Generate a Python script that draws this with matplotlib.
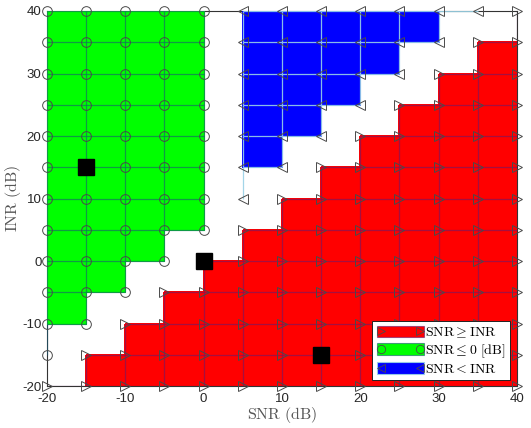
import numpy as np
import matplotlib.pyplot as plt
from matplotlib.patches import Patch
from matplotlib.lines import Line2D
from matplotlib.collections import LineCollection
from matplotlib.colors import ListedColormap

plt.rcParams['mathtext.fontset'] = 'cm'
plt.rcParams['font.family'] = ['Liberation Sans', 'DejaVu Sans']
plt.rcParams['axes.unicode_minus'] = False

# grid of the simulation (dB)
snr_db = [-20, -15, -10, -5, 0, 5, 10, 15, 20, 25, 30, 35, 40]
inr_db = [40, 35, 30, 25, 20, 15, 10, 5, 0, -5, -10, -15, -20]

# region of each grid point, rows = INR (top to bottom), cols = SNR
# r: SNR >= INR, g: SNR <= 0 dB, b: SNR < INR
region_rows = [
    'gggggbbbbbbbr',
    'gggggbbbbbbrr',
    'gggggbbbbbrrr',
    'gggggbbbbrrrr',
    'gggggbbbrrrrr',
    'gggggbbrrrrrr',
    'gggggbrrrrrrr',
    'gggggrrrrrrrr',
    'ggggrrrrrrrrr',
    'gggrrrrrrrrrr',
    'ggrrrrrrrrrrr',
    'grrrrrrrrrrrr',
    'rrrrrrrrrrrrr',
]

# highlighted operating points
black_snr = [-15, 0, 15]
black_inr = [15, 0, -15]

legend_labels = [r'$\mathrm{SNR} \geq \mathrm{INR}$',
                 r'$\mathrm{SNR} \leq 0\ [\mathrm{dB}]$',
                 r'$\mathrm{SNR} < \mathrm{INR}$']

order = ['r', 'g', 'b']
face_col = {'r': '#ff0000', 'g': '#00ff00', 'b': '#0000ff'}
mark = {'r': '>', 'g': 'o', 'b': '<'}
edge_col = {'r': (0.42, 0.1, 0.42, 0.6),
            'g': (0.1, 0.35, 0.45, 0.6),
            'b': (0.6, 0.82, 0.9, 0.9)}

cls = np.array([list(r) for r in region_rows])
X, Y = np.meshgrid(snr_db, inr_db)
n = len(inr_db)
m = len(snr_db)

fig = plt.figure(figsize=(5.31, 4.28), dpi=100)
ax = fig.add_axes([0.0885, 0.0981, 0.8851, 0.8762])

# cells are filled where all four corners share a region
cell = np.zeros((n - 1, m - 1))
for i in range(n - 1):
    for j in range(m - 1):
        c = cls[i, j]
        if c == cls[i + 1, j] == cls[i, j + 1] == cls[i + 1, j + 1]:
            cell[i, j] = order.index(c) + 1
cell = np.ma.masked_equal(cell, 0)
cmap = ListedColormap([face_col[k] for k in order])
ax.pcolormesh(snr_db, inr_db, cell, cmap=cmap, vmin=0.5, vmax=3.5,
              edgecolors='face', linewidth=0.3, zorder=1)

# mesh edges between neighbouring points of the same region
for k in order:
    segs = []
    for i in range(n):
        for j in range(m):
            if cls[i, j] != k:
                continue
            if j + 1 < m and cls[i, j + 1] == k:
                segs.append([(X[i, j], Y[i, j]), (X[i, j + 1], Y[i, j + 1])])
            if i + 1 < n and cls[i + 1, j] == k:
                segs.append([(X[i, j], Y[i, j]), (X[i + 1, j], Y[i + 1, j])])
    ax.add_collection(LineCollection(segs, colors=[edge_col[k]], linewidths=0.9, zorder=2))
    sel = cls == k
    ax.plot(X[sel], Y[sel], ls='none', marker=mark[k], ms=7, mfc='none',
            mec='#4a4a4a', mew=0.7, zorder=3, clip_on=False)

ax.plot(black_snr, black_inr, 's', color='k', ms=12, zorder=10)

ax.set_xlim(-20, 40)
ax.set_ylim(-20, 40)
ax.set_xticks([-20, -10, 0, 10, 20, 30, 40])
ax.set_yticks([-20, -10, 0, 10, 20, 30, 40])
ax.tick_params(length=0, labelsize=9.5, colors='#262626')
ax.tick_params(axis='x', pad=5)
ax.tick_params(axis='y', pad=4)
for s in ax.spines.values():
    s.set_color('#333333')
    s.set_linewidth(0.8)
    s.set_zorder(0.5)

ax.set_xlabel(r'$\mathrm{SNR\ (dB)}$', fontsize=11.5, color='#555555', labelpad=0)
ax.set_ylabel(r'$\mathrm{INR\ (dB)}$', fontsize=11.5, color='#555555')
ax.yaxis.set_label_coords(-0.05, 0.5)

handles = []
for k in order:
    handles.append((Patch(facecolor=face_col[k], edgecolor=edge_col[k], lw=0.8),
                    Line2D([], [], ls='none', marker=mark[k], ms=6, mfc='none',
                           mec='#4a4a4a', mew=0.6)))
leg = ax.legend(handles, legend_labels, loc='lower right', bbox_to_anchor=(0.985, 0.016),
                borderaxespad=0, fontsize=10, fancybox=False, framealpha=1,
                edgecolor='#222222', borderpad=0.3, handlelength=3.4, handleheight=0.9,
                labelspacing=0.15, handletextpad=0.1, numpoints=2)
leg.get_frame().set_linewidth(0.7)
leg.set_zorder(20)

fig.savefig('out.png', dpi=100)
